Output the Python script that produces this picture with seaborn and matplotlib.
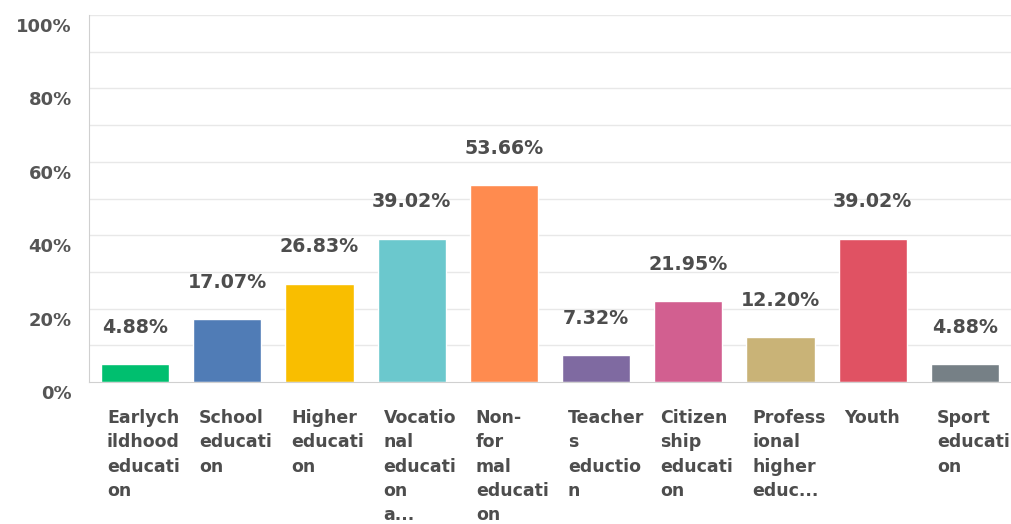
import numpy as np
import pandas as pd
import matplotlib
matplotlib.use("Agg")
import matplotlib.pyplot as plt
import matplotlib.transforms as mtransforms
import seaborn as sns

categories = ["Earlychildhood education", "School education", "Higher education",
              "Vocational education a...", "Non-formal education", "Teachers eduction",
              "Citizenship education", "Professional higher educ...", "Youth",
              "Sport education"]
wrapped_labels = ["Earlych\nildhood\neducati\non", "School\neducati\non", "Higher\neducati\non",
                  "Vocatio\nnal\neducati\non\na...", "Non-\nfor\nmal\neducati\non",
                  "Teacher\ns\neductio\nn", "Citizen\nship\neducati\non",
                  "Profess\nional\nhigher\neduc...", "Youth", "Sport\neducati\non"]
values = [4.88, 17.07, 26.83, 39.02, 53.66, 7.32, 21.95, 12.20, 39.02, 4.88]
colors = ["#00BF6F", "#507CB6", "#F9BE00", "#6BC8CD", "#FF8B4F",
          "#7F6AA1", "#D25F90", "#C9B377", "#E05263", "#768086"]
y_ticks = [0, 20, 40, 60, 80, 100]

df = pd.DataFrame({"category": categories, "value": values})

sns.set_style("white")
plt.rcParams["font.family"] = ["DejaVu Sans"]

fig = plt.figure(figsize=(10.12, 5.24), dpi=100)
ax = fig.add_axes([89 / 1012, 1 - 382 / 524, 922 / 1012, 367 / 524])

sns.barplot(data=df, x="category", y="value", hue="category", palette=colors,
            legend=False, width=0.74, saturation=1, ax=ax)

ax.set_xlim(-0.5, len(categories) - 0.5)
ax.set_ylim(0, 100)
ax.set_xlabel("")
ax.set_ylabel("")

# light gridlines every 10%
for g in range(10, 101, 10):
    ax.axhline(g, color="#e8e8e8", lw=1, zorder=0)

for s in ["top", "right"]:
    ax.spines[s].set_visible(False)
ax.spines["left"].set_color("#d0d0d0")
ax.spines["bottom"].set_color("#d0d0d0")

ax.set_yticks(y_ticks)
ax.set_yticklabels([f"{t}%" for t in y_ticks], fontsize=13, fontweight="bold", color="#555555")
ax.tick_params(axis="y", length=0, pad=12.5)
offset = mtransforms.ScaledTranslation(0, -10 / 100, fig.dpi_scale_trans)
for lab in ax.get_yticklabels():
    lab.set_transform(lab.get_transform() + offset)

ax.set_xticks([])

for i, v in enumerate(values):
    ax.annotate(f"{v:.2f}%", xy=(i, v), xytext=(0, 37), textcoords="offset pixels",
                ha="center", va="center", fontsize=13.7, fontweight="bold", color="#4d4d4d")
    ax.annotate(wrapped_labels[i], xy=(i - 0.37, 0), xycoords=("data", "axes fraction"),
                xytext=(6, -27), textcoords="offset pixels", ha="left", va="top",
                fontsize=12.5, fontweight="bold", color="#4d4d4d", linespacing=1.45,
                annotation_clip=False)

fig.savefig("out.png", dpi=100)
